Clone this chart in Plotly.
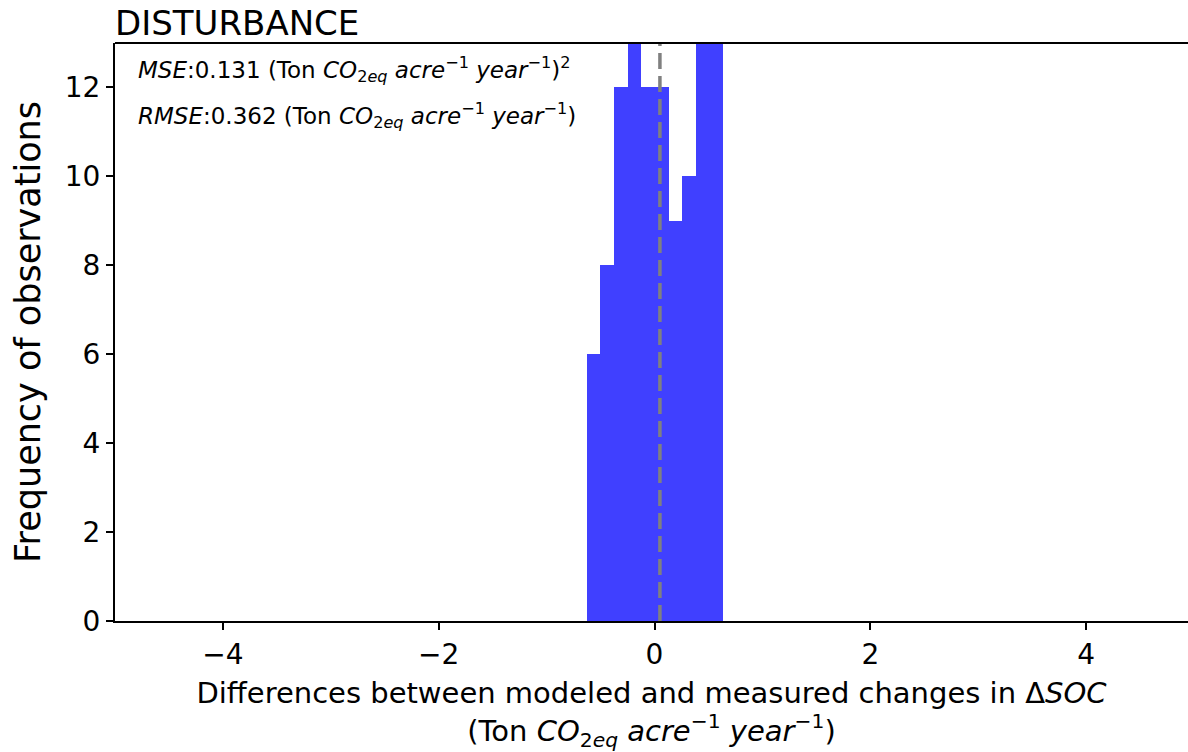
import plotly.graph_objects as go

# Histogram of model-minus-measurement differences (DISTURBANCE practice)
bin_edges = [-0.628, -0.502, -0.375, -0.249, -0.123, 0.004, 0.130, 0.256, 0.383, 0.509, 0.635]
counts = [6, 8, 12, 14, 12, 12, 9, 10, 14, 15]
mean_diff = 0.05

x_ticks = [-4, -2, 0, 2, 4]
y_ticks = [0, 2, 4, 6, 8, 10, 12]

mse_text = ("<i>MSE</i>:0.131 (Ton <i>CO</i><sub>2<i>eq</i></sub> <i>acre</i><sup>−1</sup> "
            "<i>year</i><sup>−1</sup>)<sup>2</sup>")
rmse_text = ("<i>RMSE</i>:0.362 (Ton <i>CO</i><sub>2<i>eq</i></sub> <i>acre</i><sup>−1</sup> "
             "<i>year</i><sup>−1</sup>)")
x_title = ("Differences between modeled and measured changes in Δ<i>SOC</i><br>"
           "(Ton <i>CO</i><sub>2<i>eq</i></sub> <i>acre</i><sup>−1</sup> <i>year</i><sup>−1</sup>)")

centers = [(a + b) / 2 for a, b in zip(bin_edges[:-1], bin_edges[1:])]
widths = [b - a for a, b in zip(bin_edges[:-1], bin_edges[1:])]

font_family = "DejaVu Sans"

fig = go.Figure()
fig.add_trace(go.Bar(
    x=centers, y=counts, width=widths,
    marker=dict(color="#4040ff", line=dict(width=0)),
    showlegend=False,
))

# mean difference marker
fig.add_shape(type="line", xref="x", yref="paper",
              x0=mean_diff, x1=mean_diff, y0=0, y1=1,
              line=dict(color="#808080", width=3.5, dash="16px,7px"))

# top frame line
fig.add_shape(type="line", xref="paper", yref="paper",
              x0=0, x1=1, y0=1, y1=1,
              line=dict(color="black", width=2))

fig.add_annotation(text=mse_text, xref="paper", yref="paper",
                   x=0.02, y=0.955, xanchor="left", yanchor="middle",
                   showarrow=False, font=dict(size=23, color="black", family=font_family))
fig.add_annotation(text=rmse_text, xref="paper", yref="paper",
                   x=0.02, y=0.875, xanchor="left", yanchor="middle",
                   showarrow=False, font=dict(size=23, color="black", family=font_family))

fig.update_layout(
    width=1188, height=752,
    margin=dict(l=115, r=0, t=43, b=131),
    paper_bgcolor="white", plot_bgcolor="white",
    font=dict(family=font_family, color="black"),
    title=dict(text="DISTURBANCE", x=0, xref="paper", xanchor="left",
               y=1 - 23 / 752, yref="container", yanchor="middle",
               font=dict(size=34, color="black", family=font_family)),
    bargap=0,
)

fig.update_xaxes(
    range=[-5, 4.944], tickvals=x_ticks, ticktext=[f"{v}".replace("-", "−") for v in x_ticks],
    showgrid=False, zeroline=False,
    showline=True, linecolor="black", linewidth=2,
    ticks="outside", ticklen=7, tickwidth=2, tickcolor="black",
    tickfont=dict(size=28, color="black"),
    title=dict(text=x_title, font=dict(size=29, color="black"), standoff=13),
)
fig.update_yaxes(
    range=[0, 13], tickvals=y_ticks,
    showgrid=False, zeroline=False,
    showline=True, linecolor="black", linewidth=2,
    ticks="outside", ticklen=7, tickwidth=2, tickcolor="black",
    tickfont=dict(size=28, color="black"),
    title=dict(text="Frequency of observations", font=dict(size=35, color="black"), standoff=14),
)

fig.write_html("out.html")
